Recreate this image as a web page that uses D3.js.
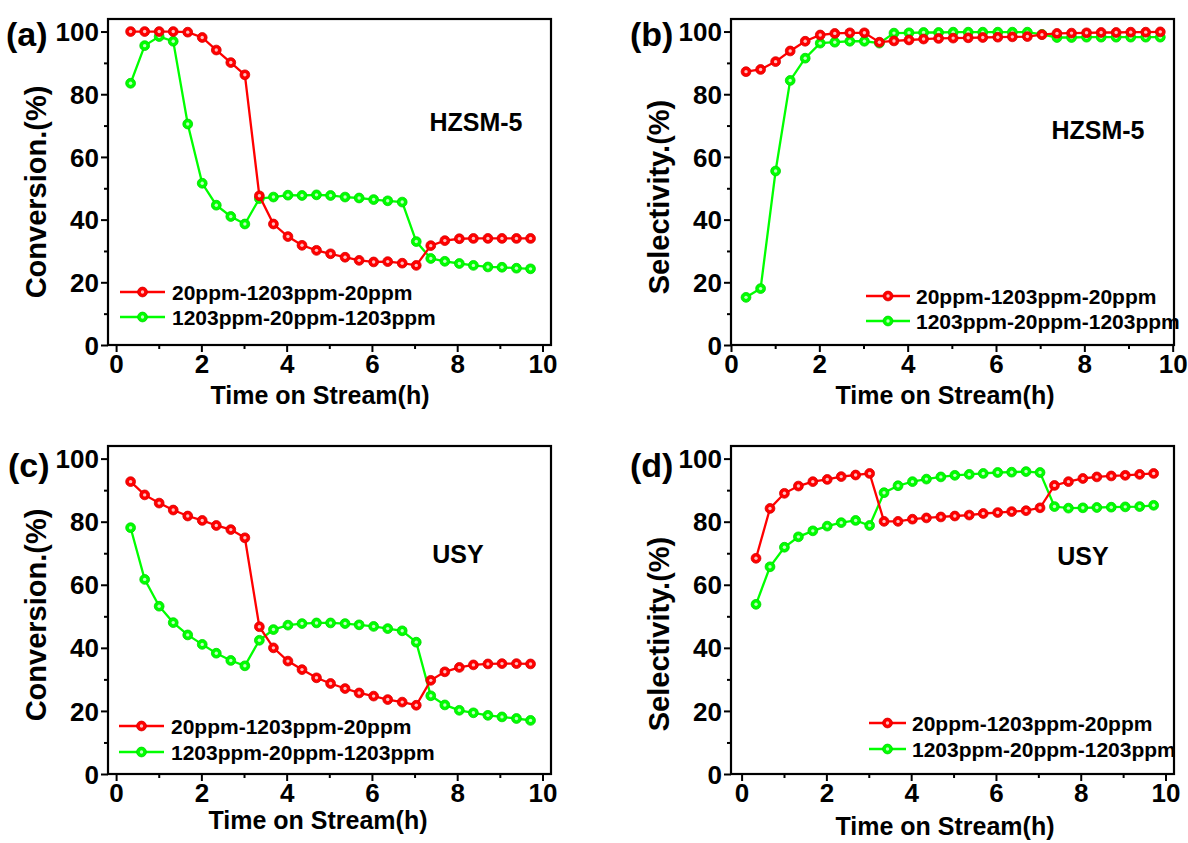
<!DOCTYPE html>
<html><head><meta charset="utf-8">
<script src="https://cdn.jsdelivr.net/npm/d3@7"></script>
<style>
body{margin:0;background:#fff}
svg{display:block}
text{font-family:Arial,"Liberation Sans",sans-serif;font-weight:bold;fill:#000}
</style>
</head><body>
<svg id="chart" width="1188" height="843"></svg>
<script>
// ---------- data ----------
const times = [0.34,0.67,1.01,1.34,1.68,2.02,2.35,2.69,3.02,3.36,3.69,4.03,4.36,4.70,5.03,5.37,5.70,6.04,6.37,6.71,7.04,7.38,7.71,8.05,8.38,8.72,9.05,9.39,9.72];
const seriesNames = ["20ppm-1203ppm-20ppm","1203ppm-20ppm-1203ppm"];
const xTickValues = [0,2,4,6,8,10];
const yTickValues = [0,20,40,60,80,100];

const convHZSM_low  = [100,100,100,100,99.8,98.1,94.1,90.1,86.2,47.6,38.6,34.6,31.8,30.2,29.1,28.0,27.0,26.5,26.6,26.1,25.4,31.7,33.3,33.9,34.0,34.0,34.0,34.0,34.0];
const convHZSM_high = [83.5,95.5,98.4,96.9,70.5,51.6,44.6,41.0,38.6,46.7,47.2,47.8,47.7,47.9,47.7,47.2,46.9,46.4,46.0,45.6,33.0,27.6,26.7,26.0,25.4,24.9,24.8,24.5,24.3];
const selHZSM_low   = [87.2,87.9,90.4,93.8,96.9,98.9,99.4,99.6,99.6,96.6,97.0,97.3,97.6,97.8,97.9,98.0,98.1,98.2,98.3,98.4,99.0,99.4,99.5,99.6,99.7,99.7,99.8,99.8,99.9];
const selHZSM_high  = [15.2,18.0,55.5,84.4,91.5,96.3,96.6,96.9,96.9,96.3,99.5,99.6,99.7,99.7,99.8,99.8,99.8,99.8,99.8,99.8,99.1,98.1,98.1,98.2,98.2,98.2,98.2,98.2,98.2];
const convUSY_low   = [92.7,88.5,85.9,83.7,81.8,80.4,78.8,77.5,74.9,46.7,40.0,35.8,33.1,30.5,28.7,27.1,25.7,24.7,23.6,22.8,21.8,29.7,32.4,33.8,34.6,34.9,35.0,35.0,34.9];
const convUSY_high  = [78.1,61.7,53.2,48.0,44.1,41.1,38.3,36.0,34.3,42.4,45.8,47.2,47.7,47.9,47.9,47.7,47.3,46.8,46.1,45.4,41.8,24.8,21.9,20.2,19.4,18.6,18.1,17.6,17.0];
const selUSY_low    = [68.4,84.2,89.0,91.3,92.7,93.4,94.3,94.8,95.3,80.1,80.1,80.8,81.2,81.5,81.8,82.1,82.6,82.9,83.2,83.5,84.4,91.5,92.7,93.7,94.2,94.5,94.7,95.0,95.3];
const selUSY_high   = [53.8,65.7,71.9,75.2,77.1,78.6,79.7,80.4,78.8,89.2,91.4,92.7,93.5,94.2,94.7,95.0,95.3,95.6,95.7,95.9,95.6,84.8,84.3,84.4,84.5,84.6,84.7,84.8,85.2];

const colors = ["#ff0000","#00ff00"];

// ---------- layout ----------
const panels = [
  {label:"(a)", low:convHZSM_low, high:convHZSM_high, ytitle:"Conversion.(%)", note:"HZSM-5",
   fx0:108, fx1:551, fy0:19, fy1:345, xdom:[-0.19,10.2], ydom:[0,104],
   lab:[6,46], yt:[36,192], xt:[320,404], nt:[476,131], leg:{x0:120,x1:165,tx:172,y:[292,317]}},
  {label:"(b)", low:selHZSM_low, high:selHZSM_high, ytitle:"Selectivity.(%)", note:"HZSM-5",
   fx0:731, fx1:1174, fy0:19, fy1:345, xdom:[0,10.03], ydom:[0,104],
   lab:[630,46], yt:[659,197], xt:[945,404], nt:[1098,139], leg:{x0:866,x1:910,tx:916,y:[296,321]}},
  {label:"(c)", low:convUSY_low, high:convUSY_high, ytitle:"Conversion.(%)", note:"USY",
   fx0:108, fx1:551, fy0:446, fy1:774, xdom:[-0.19,10.2], ydom:[0,104],
   lab:[8,477], yt:[36,615], xt:[318,829], nt:[458,563], leg:{x0:119,x1:164,tx:171,y:[726,752]}},
  {label:"(d)", low:selUSY_low, high:selUSY_high, ytitle:"Selectivity.(%)", note:"USY",
   fx0:731, fx1:1174, fy0:446, fy1:774, xdom:[-0.25,10.2], ydom:[0,104],
   lab:[630,477], yt:[659,634], xt:[945,835], nt:[1083,565], leg:{x0:869,x1:906,tx:912,y:[723,749]}}
];

const svg = d3.select("#chart");

function marker(g, x, y, color){
  g.append("circle").attr("cx",x).attr("cy",y).attr("r",4.9).attr("fill",color)
    .attr("stroke",d3.color(color).darker(0.5)).attr("stroke-width",0.8);
  g.append("circle").attr("cx",x).attr("cy",y).attr("r",1.7).attr("fill","#fff").attr("opacity",0.75);
}

panels.forEach(p=>{
  const x = d3.scaleLinear().domain(p.xdom).range([p.fx0,p.fx1]);
  const y = d3.scaleLinear().domain(p.ydom).range([p.fy1,p.fy0]);
  const g = svg.append("g");

  // frame
  g.append("rect").attr("x",p.fx0).attr("y",p.fy0).attr("width",p.fx1-p.fx0).attr("height",p.fy1-p.fy0)
    .attr("fill","none").attr("stroke","#000").attr("stroke-width",2.2);

  // axes
  const xa = g.append("g").attr("transform",`translate(0,${p.fy1})`)
    .call(d3.axisBottom(x).tickValues(xTickValues).tickFormat(d3.format("d")).tickSize(7).tickSizeOuter(0));
  const xm = g.append("g").attr("transform",`translate(0,${p.fy1})`)
    .call(d3.axisBottom(x).tickValues([1,3,5,7,9]).tickFormat("").tickSize(4).tickSizeOuter(0));
  const ya = g.append("g").attr("transform",`translate(${p.fx0},0)`)
    .call(d3.axisLeft(y).tickValues(yTickValues).tickFormat(d3.format("d")).tickSize(7).tickSizeOuter(0));
  const ym = g.append("g").attr("transform",`translate(${p.fx0},0)`)
    .call(d3.axisLeft(y).tickValues([10,30,50,70,90]).tickFormat("").tickSize(4).tickSizeOuter(0));
  [xa,xm,ya,ym].forEach(a=>{
    a.select(".domain").remove();
    a.selectAll(".tick line").attr("stroke","#000").attr("stroke-width",2);
  });
  xa.selectAll(".tick text").attr("font-size",26).attr("font-family","Arial,'Liberation Sans',sans-serif")
    .attr("font-weight","bold").attr("y",10).attr("dy","0.71em");
  ya.selectAll(".tick text").attr("font-size",26).attr("font-family","Arial,'Liberation Sans',sans-serif")
    .attr("font-weight","bold").attr("x",-9).attr("dy","0.35em");

  // series (high first, low on top)
  [[p.high,colors[1]],[p.low,colors[0]]].forEach(([vals,c])=>{
    const pts = times.map((t,i)=>[t,vals[i]]);
    g.append("path").datum(pts).attr("fill","none").attr("stroke",c).attr("stroke-width",2.3)
      .attr("d",d3.line().x(d=>x(d[0])).y(d=>y(d[1])));
    const mg = g.append("g");
    pts.forEach(d=>marker(mg,x(d[0]),y(d[1]),c));
  });

  // legend
  [0,1].forEach(i=>{
    const ly = p.leg.y[i];
    g.append("line").attr("x1",p.leg.x0).attr("x2",p.leg.x1).attr("y1",ly).attr("y2",ly)
      .attr("stroke",colors[i]).attr("stroke-width",2.3);
    marker(g,(p.leg.x0+p.leg.x1)/2,ly,colors[i]);
    g.append("text").attr("x",p.leg.tx).attr("y",ly).attr("dy","0.36em").attr("font-size",21).text(seriesNames[i]);
  });

  // titles
  g.append("text").attr("x",p.xt[0]).attr("y",p.xt[1]).attr("text-anchor","middle").attr("font-size",25).text("Time on Stream(h)");
  g.append("text").attr("transform",`translate(${p.yt[0]},${p.yt[1]}) rotate(-90)`).attr("text-anchor","middle")
    .attr("dy","0.36em").attr("font-size",29).text(p.ytitle);
  g.append("text").attr("x",p.nt[0]).attr("y",p.nt[1]).attr("text-anchor","middle").attr("font-size",25).text(p.note);
  g.append("text").attr("x",p.lab[0]).attr("y",p.lab[1]).attr("font-size",34).text(p.label);
});
</script>
</body></html>
